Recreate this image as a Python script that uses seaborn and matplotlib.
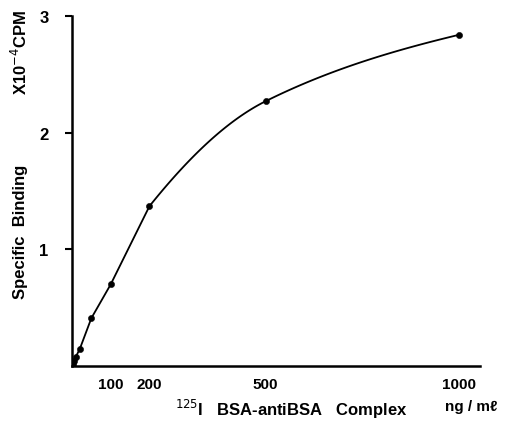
import numpy as np
import pandas as pd
import matplotlib
matplotlib.use("Agg")
import matplotlib.pyplot as plt
import seaborn as sns

conc = [2, 5, 10, 20, 50, 100, 200, 500, 1000]
binding = [0.02, 0.04, 0.08, 0.145, 0.41, 0.70, 1.37, 2.27, 2.84]
xticks = [100, 200, 500, 1000]
yticks = [1, 2, 3]

sns.set_theme(style="white")
plt.rcParams['font.family'] = ['Liberation Sans', 'DejaVu Sans']
plt.rcParams['text.color'] = 'black'
plt.rcParams['xtick.color'] = 'black'
plt.rcParams['ytick.color'] = 'black'

fig = plt.figure(figsize=(5.07, 4.27), dpi=100)
ax = fig.add_axes([0.142, 0.1405, 0.805, 0.8195])

df = pd.DataFrame({"conc": conc, "binding": binding})

# curve rendering: straight segments in the near-linear low range, then a smooth
# cubic Hermite (harmonic-mean tangents) through the saturating part
x = np.array([0] + conc, float); y = np.array([0] + binding, float)
h = np.diff(x); d = np.diff(y) / h
k = int(np.where(x == 200)[0][0])
m = np.zeros_like(y)
for i in range(1, len(x) - 1):
    m[i] = 2 * d[i-1] * d[i] / (d[i-1] + d[i])
m[-1] = 0.7 * d[-1]
xs, ys = list(x[:k + 1]), list(y[:k + 1])
for i in range(k, len(x) - 1):
    t = np.linspace(0, 1, 60)[1:]
    h00 = 2*t**3 - 3*t**2 + 1; h10 = t**3 - 2*t**2 + t
    h01 = -2*t**3 + 3*t**2; h11 = t**3 - t**2
    xs.extend(x[i] + t*h[i])
    ys.extend(h00*y[i] + h10*h[i]*m[i] + h01*y[i+1] + h11*h[i]*m[i+1])
curve = pd.DataFrame({"conc": xs, "binding": ys})

sns.lineplot(data=curve, x="conc", y="binding", ax=ax, color="black", lw=1.3, sort=False)
sns.scatterplot(data=df, x="conc", y="binding", ax=ax, color="black", s=20, edgecolor="black", zorder=3)

ax.set_xlim(0, 1054)
ax.set_ylim(0, 3)
sns.despine(ax=ax)
for s in ["left", "bottom"]:
    ax.spines[s].set_color("black")
    ax.spines[s].set_linewidth(1.8)
ax.set_xticks(xticks)
ax.set_xticklabels([str(v) for v in xticks], fontsize=11, fontweight="bold")
ax.set_yticks(yticks)
ax.set_yticklabels([str(v) for v in yticks], fontsize=12, fontweight="bold")
ax.tick_params(axis="x", length=0, pad=8)
ax.tick_params(axis="y", length=5, width=1.5, color="black", direction="out", left=True, pad=12)
ax.set_xlabel(""); ax.set_ylabel("")

fig.text(0.575, 0.015, r"$^{125}$I   BSA-antiBSA   Complex", ha="center", va="bottom",
         fontsize=12, fontweight="bold")
fig.text(0.93, 0.03, "ng / mℓ", ha="center", va="bottom", fontsize=11, fontweight="bold")
fig.text(0.04, 0.456, "Specific  Binding", rotation=90, ha="center", va="center",
         fontsize=12, fontweight="bold")
fig.text(0.04, 0.878, r"X10$^{-4}$CPM", rotation=90, ha="center", va="center",
         fontsize=12, fontweight="bold")

fig.savefig("out.png", dpi=100)
